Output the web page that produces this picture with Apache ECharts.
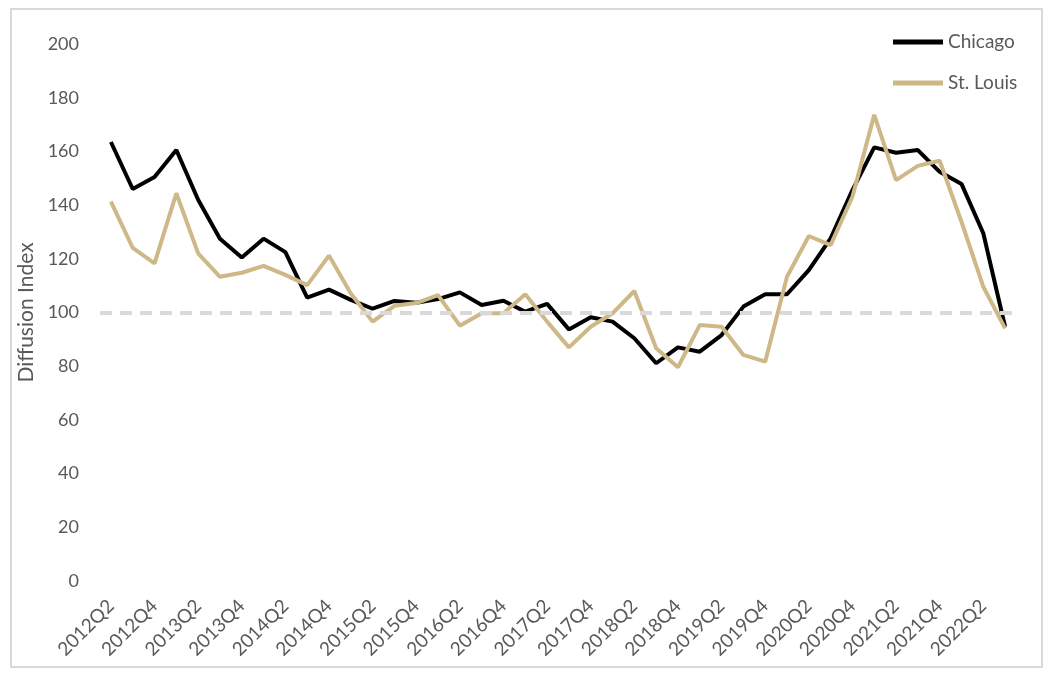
<!DOCTYPE html>
<html>
<head>
<meta charset="utf-8">
<script src="https://cdn.jsdelivr.net/npm/echarts@6/dist/echarts.min.js"></script>
<style>
html,body{margin:0;padding:0;background:#fff;}
#frame{position:absolute;left:10px;top:8px;width:1029px;height:656px;border:2px solid #d9d9d9;box-sizing:content-box;}
#chart{position:absolute;left:0;top:0;width:1050px;height:676px;}
</style>
</head>
<body>
<div id="frame"></div>
<div id="chart"></div>
<script>
var categories = ['2012Q2','2012Q3','2012Q4','2013Q1','2013Q2','2013Q3','2013Q4','2014Q1','2014Q2','2014Q3','2014Q4',
  '2015Q1','2015Q2','2015Q3','2015Q4','2016Q1','2016Q2','2016Q3','2016Q4','2017Q1','2017Q2','2017Q3','2017Q4',
  '2018Q1','2018Q2','2018Q3','2018Q4','2019Q1','2019Q2','2019Q3','2019Q4','2020Q1','2020Q2','2020Q3','2020Q4',
  '2021Q1','2021Q2','2021Q3','2021Q4','2022Q1','2022Q2','2022Q3'];
var chicago = [163.5,146,150.5,160.5,142,127.5,120.5,127.5,122.5,105.5,108.5,
  104.7,101.4,104.3,103.6,105,107.5,102.8,104.4,100.3,103.2,93.7,98.2,
  96.6,90.4,81.1,87,85.4,91.6,102.2,106.8,106.8,115.8,127.6,145.6,
  161.5,159.5,160.5,152.4,147.9,129.5,94.7];
var stLouis = [141.3,124.1,118.3,144.4,122,113.3,114.8,117.4,114,110.2,121.2,
  107.1,96.6,102.5,103.5,106.5,95.1,99.7,99.7,106.8,96.6,87,94.7,
  99.7,108,86.7,79.6,95.3,94.7,84.2,81.7,113.3,128.5,125.1,143.1,
  173.6,149.3,154.6,156.5,133.8,109.6,94.1];
var referenceLevel = 100;
var yTicks = {min: 0, max: 200, interval: 20};

var chart = echarts.init(document.getElementById('chart'));
var font = 'Lato, "Open Sans", sans-serif';
chart.setOption({
  animation: false,
  grid: {left: 100, right: 34, top: 44, bottom: 95},
  legend: {
    orient: 'vertical', left: 888, top: 27,
    icon: 'rect', itemWidth: 50, itemHeight: 5, itemGap: 21,
    textStyle: {fontFamily: font, fontSize: 19, color: '#595959', lineHeight: 20},
    data: ['Chicago', 'St. Louis']
  },
  xAxis: {
    type: 'category', data: categories, boundaryGap: true,
    axisLine: {show: false}, axisTick: {show: false},
    axisLabel: {interval: 1, rotate: 45, fontFamily: font, fontSize: 19, color: '#595959', margin: 22}
  },
  yAxis: {
    type: 'value', min: yTicks.min, max: yTicks.max, interval: yTicks.interval,
    name: 'Diffusion Index', nameLocation: 'middle', nameGap: 56,
    nameTextStyle: {fontFamily: font, fontSize: 21, color: '#595959'},
    splitLine: {show: false}, axisLine: {show: false}, axisTick: {show: false},
    axisLabel: {fontFamily: font, fontSize: 18, color: '#595959', margin: 21}
  },
  series: [
    {
      name: 'Chicago', type: 'line', data: chicago, symbol: 'none', z: 3,
      lineStyle: {color: '#000000', width: 4}, itemStyle: {color: '#000000'}
    },
    {
      name: 'St. Louis', type: 'line', data: stLouis, symbol: 'none', z: 4,
      lineStyle: {color: '#CEB888', width: 4}, itemStyle: {color: '#CEB888'}
    },
    {
      name: 'ref', type: 'line', data: [], z: 2,
      markLine: {
        silent: true, symbol: 'none', label: {show: false},
        lineStyle: {color: '#d9d9d9', width: 4, type: [12, 8]},
        data: [{yAxis: referenceLevel}]
      }
    }
  ]
});
</script>
</body>
</html>
